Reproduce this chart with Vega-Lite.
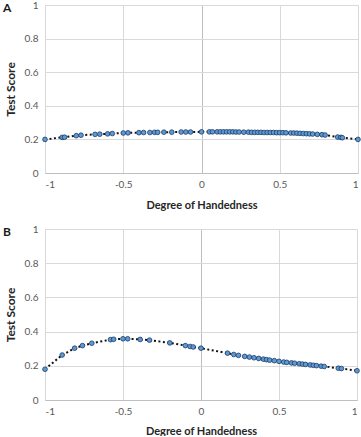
{
  "$schema": "https://vega.github.io/schema/vega-lite/v6.json",
  "padding": {"left": 3, "top": 0, "right": 4, "bottom": 0},
  "background": "white",
  "config": {
    "font": "Lato",
    "view": {"stroke": null},
    "axis": {
      "ticks": false,
      "labelFontSize": 10,
      "labelColor": "#595959",
      "titleFontSize": 11,
      "titleFontWeight": "bold",
      "titleColor": "#262626",
      "gridColor": "#d9d9d9",
      "gridWidth": 1
    },
    "title": {"fontSize": 12, "fontWeight": "bold", "color": "#1a1a1a"}
  },
  "bounds": "flush",
  "spacing": 56,
  "datasets": {
    "a": [
      {"x": -1, "y": 0.2}, {"x": -0.89, "y": 0.212}, {"x": -0.875, "y": 0.213},
      {"x": -0.8, "y": 0.222}, {"x": -0.77, "y": 0.225}, {"x": -0.68, "y": 0.23},
      {"x": -0.65, "y": 0.231}, {"x": -0.6, "y": 0.233}, {"x": -0.57, "y": 0.235},
      {"x": -0.5, "y": 0.238}, {"x": -0.47, "y": 0.239}, {"x": -0.4, "y": 0.24},
      {"x": -0.37, "y": 0.241}, {"x": -0.33, "y": 0.241}, {"x": -0.3, "y": 0.242},
      {"x": -0.28, "y": 0.242}, {"x": -0.24, "y": 0.243}, {"x": -0.19, "y": 0.243},
      {"x": -0.13, "y": 0.244}, {"x": -0.1, "y": 0.244}, {"x": -0.07, "y": 0.244},
      {"x": 0, "y": 0.245}, {"x": 0.05, "y": 0.245}, {"x": 0.07, "y": 0.245},
      {"x": 0.1, "y": 0.245}, {"x": 0.12, "y": 0.245}, {"x": 0.14, "y": 0.245},
      {"x": 0.16, "y": 0.245}, {"x": 0.18, "y": 0.245}, {"x": 0.2, "y": 0.245},
      {"x": 0.22, "y": 0.244}, {"x": 0.24, "y": 0.244}, {"x": 0.27, "y": 0.243},
      {"x": 0.3, "y": 0.243}, {"x": 0.32, "y": 0.242}, {"x": 0.34, "y": 0.242},
      {"x": 0.36, "y": 0.242}, {"x": 0.38, "y": 0.242}, {"x": 0.4, "y": 0.241},
      {"x": 0.42, "y": 0.241}, {"x": 0.44, "y": 0.241}, {"x": 0.46, "y": 0.241},
      {"x": 0.48, "y": 0.24}, {"x": 0.5, "y": 0.24}, {"x": 0.52, "y": 0.24},
      {"x": 0.54, "y": 0.239}, {"x": 0.57, "y": 0.238}, {"x": 0.59, "y": 0.238},
      {"x": 0.61, "y": 0.237}, {"x": 0.63, "y": 0.236}, {"x": 0.65, "y": 0.235},
      {"x": 0.67, "y": 0.234}, {"x": 0.69, "y": 0.233}, {"x": 0.71, "y": 0.232},
      {"x": 0.74, "y": 0.23}, {"x": 0.77, "y": 0.228}, {"x": 0.79, "y": 0.226},
      {"x": 0.87, "y": 0.214}, {"x": 0.89, "y": 0.212}, {"x": 0.9, "y": 0.21},
      {"x": 1, "y": 0.2}
    ],
    "b": [
      {"x": -1, "y": 0.18}, {"x": -0.89, "y": 0.263}, {"x": -0.81, "y": 0.303},
      {"x": -0.76, "y": 0.318}, {"x": -0.7, "y": 0.332}, {"x": -0.58, "y": 0.353},
      {"x": -0.56, "y": 0.355}, {"x": -0.5, "y": 0.358}, {"x": -0.47, "y": 0.358},
      {"x": -0.39, "y": 0.354}, {"x": -0.33, "y": 0.35}, {"x": -0.2, "y": 0.334},
      {"x": -0.1, "y": 0.318}, {"x": -0.07, "y": 0.313}, {"x": -0.05, "y": 0.31},
      {"x": 0, "y": 0.303}, {"x": 0.17, "y": 0.274}, {"x": 0.21, "y": 0.266},
      {"x": 0.24, "y": 0.261}, {"x": 0.28, "y": 0.255}, {"x": 0.31, "y": 0.251},
      {"x": 0.34, "y": 0.247}, {"x": 0.37, "y": 0.243}, {"x": 0.4, "y": 0.239},
      {"x": 0.42, "y": 0.236}, {"x": 0.44, "y": 0.233}, {"x": 0.47, "y": 0.23},
      {"x": 0.5, "y": 0.226}, {"x": 0.53, "y": 0.222}, {"x": 0.55, "y": 0.22},
      {"x": 0.58, "y": 0.217}, {"x": 0.6, "y": 0.215}, {"x": 0.63, "y": 0.212},
      {"x": 0.65, "y": 0.21}, {"x": 0.67, "y": 0.208}, {"x": 0.7, "y": 0.205},
      {"x": 0.72, "y": 0.203}, {"x": 0.74, "y": 0.201}, {"x": 0.77, "y": 0.198},
      {"x": 0.79, "y": 0.196}, {"x": 0.88, "y": 0.186}, {"x": 0.9, "y": 0.184},
      {"x": 1, "y": 0.171}
    ]
  },
  "vconcat": [
    {
      "width": 313,
      "height": 168,
      "title": {"text": "A", "anchor": "start", "frame": "group", "dx": -42, "dy": 19},
      "data": {"name": "a"},
      "encoding": {
        "x": {"field": "x", "type": "quantitative", "scale": {"domain": [-1, 1], "nice": false},
          "axis": {"title": "Degree of Handedness", "values": [-1, -0.5, 0, 0.5, 1], "labelExpr": "'' + datum.value", "labelPadding": 6, "titlePadding": 10, "domainColor": "#bfbfbf",
            "gridColor": {"condition": {"test": "datum.value === 0", "value": "#bdbdbd"}, "value": "#d9d9d9"}}},
        "y": {"field": "y", "type": "quantitative", "scale": {"domain": [0, 1], "nice": false},
          "axis": {"title": "Test  Score", "titleFontSize": 12, "values": [0, 0.2, 0.4, 0.6, 0.8, 1], "labelExpr": "'' + datum.value", "labelPadding": 7, "titlePadding": 7, "domain": false}}
      },
      "layer": [
        {"mark": {"type": "line", "color": "#111111", "strokeWidth": 2, "strokeDash": [2, 2.5]}},
        {"mark": {"type": "point", "filled": true, "fill": "#5b9bd5", "stroke": "#1f3864", "strokeWidth": 0.8, "size": 22, "opacity": 1}}
      ]
    },
    {
      "width": 312,
      "height": 171,
      "title": {"text": "B", "anchor": "start", "frame": "group", "dx": -42, "dy": 19},
      "data": {"name": "b"},
      "encoding": {
        "x": {"field": "x", "type": "quantitative", "scale": {"domain": [-1, 1], "nice": false},
          "axis": {"title": "Degree of Handedness", "values": [-1, -0.5, 0, 0.5, 1], "labelExpr": "'' + datum.value", "labelPadding": 6, "titlePadding": 9, "domainColor": "#bfbfbf",
            "gridColor": {"condition": {"test": "datum.value === 0", "value": "#bdbdbd"}, "value": "#d9d9d9"}}},
        "y": {"field": "y", "type": "quantitative", "scale": {"domain": [0, 1], "nice": false},
          "axis": {"title": "Test Score", "titleFontSize": 12, "values": [0, 0.2, 0.4, 0.6, 0.8, 1], "labelExpr": "'' + datum.value", "labelPadding": 7, "titlePadding": 7, "domain": false}}
      },
      "layer": [
        {"mark": {"type": "line", "color": "#111111", "strokeWidth": 2, "strokeDash": [2, 2.5]}},
        {"mark": {"type": "point", "filled": true, "fill": "#5b9bd5", "stroke": "#1f3864", "strokeWidth": 0.8, "size": 22, "opacity": 1}}
      ]
    }
  ]
}
